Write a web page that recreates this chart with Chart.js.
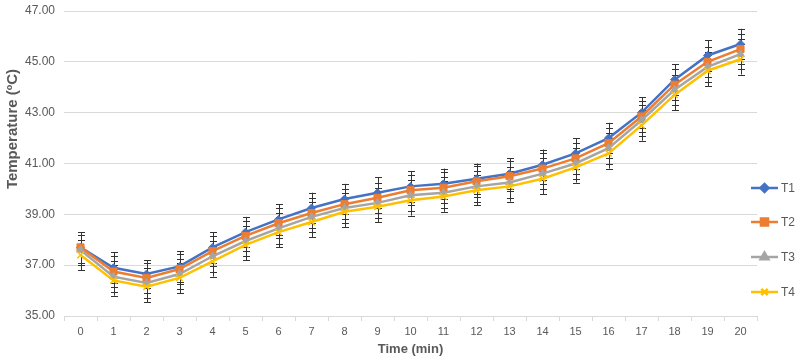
<!DOCTYPE html>
<html><head><meta charset="utf-8">
<script src="https://cdn.jsdelivr.net/npm/chart.js@4/dist/chart.umd.min.js"></script>
<style>html,body{margin:0;padding:0;background:#fff}#wrap{width:800px;height:361px}</style>
</head><body><div id="wrap"><canvas id="c" width="800" height="361"></canvas></div>
<script>
const categories = ['0','1','2','3','4','5','6','7','8','9','10','11','12','13','14','15','16','17','18','19','20'];
const seriesNames = ['T1','T2','T3','T4'];
const t1 = [37.7,36.9,36.65,36.95,37.7,38.3,38.8,39.25,39.6,39.85,40.1,40.2,40.4,40.6,40.95,41.4,42.0,43.0,44.3,45.25,45.7];
const t2 = [37.7,36.75,36.5,36.85,37.55,38.15,38.65,39.05,39.4,39.65,39.95,40.05,40.3,40.5,40.8,41.2,41.8,42.85,44.1,45.0,45.5];
const t3 = [37.6,36.55,36.3,36.65,37.35,37.95,38.45,38.9,39.25,39.45,39.75,39.85,40.1,40.25,40.6,41.0,41.6,42.7,43.9,44.8,45.3];
const t4 = [37.4,36.4,36.15,36.5,37.15,37.8,38.3,38.7,39.1,39.3,39.55,39.7,39.95,40.1,40.4,40.85,41.4,42.5,43.7,44.65,45.1];
const err1 = [0.6,0.6,0.55,0.6,0.6,0.6,0.6,0.6,0.6,0.6,0.6,0.6,0.6,0.6,0.6,0.6,0.6,0.6,0.6,0.6,0.6];
const err2 = [0.6,0.6,0.6,0.6,0.6,0.6,0.6,0.6,0.6,0.6,0.6,0.6,0.6,0.6,0.6,0.6,0.6,0.6,0.6,0.6,0.6];
const err3 = [0.6,0.6,0.6,0.6,0.6,0.6,0.6,0.6,0.6,0.6,0.6,0.6,0.6,0.6,0.6,0.6,0.6,0.6,0.6,0.6,0.6];
const err4 = [0.6,0.6,0.6,0.6,0.6,0.6,0.6,0.6,0.6,0.6,0.6,0.6,0.6,0.6,0.6,0.6,0.6,0.6,0.6,0.6,0.6];
const yTicks = [35,37,39,41,43,45,47];
const yTitle = 'Temperature (ºC)';
const xTitle = 'Time (min)';

const colors = ['#4472C4','#ED7D31','#A5A5A5','#FFC000'];
const markers = ['rectRot','rect','triangle','crossRot'];
const radii = [4,5,4.5,4.5];
const values = [t1,t2,t3,t4];
const errors = [err1,err2,err3,err4];
const FONT = '"Liberation Sans", Arial, sans-serif';

const errorBars = {
  id:'errorBars',
  beforeDatasetsDraw(chart){
    const ctx = chart.ctx, y = chart.scales.y;
    ctx.save();
    ctx.strokeStyle = '#333333';
    ctx.lineWidth = 1;
    chart.data.datasets.forEach((ds,i)=>{
      const meta = chart.getDatasetMeta(i);
      const k = seriesNames.indexOf(ds.label);
      meta.data.forEach((pt,j)=>{
        const v = ds.data[j], e = errors[k][j];
        const x = Math.round(pt.x)+0.5;
        const yt = y.getPixelForValue(v+e), yb = y.getPixelForValue(v-e);
        ctx.beginPath();
        ctx.moveTo(x,yt); ctx.lineTo(x,yb);
        ctx.moveTo(x-3.5,Math.round(yt)+0.5); ctx.lineTo(x+3.5,Math.round(yt)+0.5);
        ctx.moveTo(x-3.5,Math.round(yb)+0.5); ctx.lineTo(x+3.5,Math.round(yb)+0.5);
        ctx.stroke();
      });
    });
    ctx.restore();
  }
};

const customLegend = {
  id:'customLegend',
  afterDraw(chart){
    const ctx = chart.ctx;
    const ys = [188,222,257,292];
    ctx.save();
    seriesNames.forEach((n,i)=>{
      const yy = ys[i];
      ctx.strokeStyle = colors[i]; ctx.lineWidth = 2.5;
      ctx.beginPath(); ctx.moveTo(751,yy); ctx.lineTo(778,yy); ctx.stroke();
      ctx.fillStyle = colors[i]; ctx.strokeStyle = colors[i];
      Chart.helpers.drawPoint(ctx,{pointStyle:markers[i],radius:radii[i],borderWidth:i===3?1.5:1,rotation:0},764.5,yy);
      ctx.fillStyle = '#595959';
      ctx.font = '12px '+FONT;
      ctx.textBaseline = 'middle';
      ctx.fillText(n,781,yy+1);
    });
    // y axis title
    ctx.translate(13,129);
    ctx.rotate(-Math.PI/2);
    ctx.fillStyle = '#595959';
    ctx.font = 'bold 15px '+FONT;
    ctx.textAlign = 'center';
    ctx.textBaseline = 'middle';
    ctx.fillText(yTitle,0,0);
    ctx.restore();
  }
};

new Chart(document.getElementById('c'),{
  type:'line',
  data:{
    labels:categories,
    datasets: values.map((d,i)=>({
      label:seriesNames[i],
      data:d,
      borderColor:colors[i],
      backgroundColor:colors[i],
      borderWidth:2.5,
      pointStyle:markers[i],
      pointRadius:radii[i],
      pointBorderWidth:i===3?1.5:1,
      pointBorderColor:colors[i],
      pointBackgroundColor:colors[i],
      tension:0
    })).reverse()
  },
  options:{
    responsive:false,
    animation:false,
    devicePixelRatio:1,
    layout:{padding:{top:11,right:43,left:0,bottom:0}},
    plugins:{legend:{display:false},tooltip:{enabled:false}},
    scales:{
      x:{
        offset:true,
        grid:{offset:true,drawOnChartArea:false,drawTicks:true,tickLength:5,color:'#d9d9d9'},
        border:{color:'#d9d9d9'},
        ticks:{color:'#595959',font:{family:FONT,size:11},padding:4,maxRotation:0,autoSkip:false},
        title:{display:true,text:xTitle,color:'#595959',font:{family:FONT,size:13,weight:'bold'},padding:{top:4,bottom:4}},
        afterFit(s){s.height=45;}
      },
      y:{
        min:35,max:47,
        afterBuildTicks(s){s.ticks = yTicks.map(v=>({value:v}));},
        grid:{color:'#d9d9d9',drawTicks:false},
        border:{display:false},
        ticks:{color:'#595959',font:{family:FONT,size:12},padding:9,callback:v=>Number(v).toFixed(2)},
        title:{display:false},
        afterFit(s){s.width=64; s.paddingTop=0; s.paddingBottom=0;}
      }
    }
  },
  plugins:[errorBars,customLegend]
});
</script>
</body></html>
